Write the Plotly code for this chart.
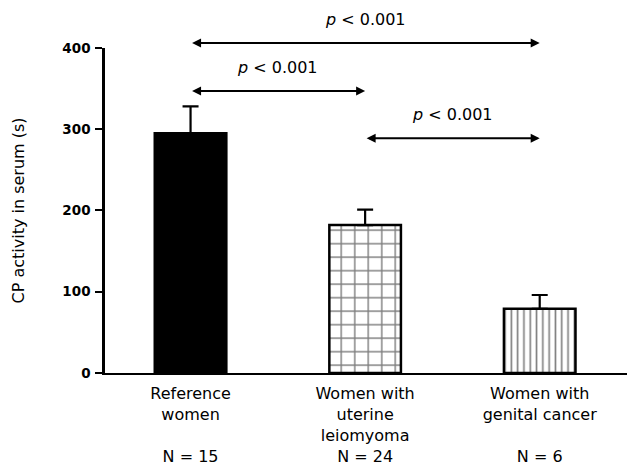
import plotly.graph_objects as go

# ---- data ----
groups = ["Reference<br>women", "Women with<br>uterine<br>leiomyoma", "Women with<br>genital cancer"]
n_subjects = [15, 24, 6]
means = [295, 182, 79]
sem = [33, 19, 17]
pattern_shapes = ["", "+", "|"]
y_ticks = [0, 100, 200, 300, 400]
# significance comparisons: (group a, group b, bracket level, label)
comparisons = [(0, 2, 406, "<i>p</i> &lt; 0.001"),
               (0, 1, 347, "<i>p</i> &lt; 0.001"),
               (1, 2, 289, "<i>p</i> &lt; 0.001")]

# ---- styles / layout constants ----
fill_colors = ["black", "white", "white"]
pattern_sizes = [8, 13.5, 6.3]
pattern_solidity = [0.3, 0.2, 0.26]
W, H = 627, 466
ML, MR, MT, MB = 105, 0, 4, 92.5
PX_PER_UNIT = (373.5 - 48) / 400.0
Y_TOP = (H - MT - MB) / PX_PER_UNIT
X_RANGE = [-0.49, 2.5]
FONT = "DejaVu Sans, Liberation Sans, Arial, sans-serif"
FS = 16

# tick labels: pad each group label to three lines, then the N line
ticktext = []
for g, n in zip(groups, n_subjects):
    lines = g.split("<br>")
    while len(lines) < 3:
        lines.append("\u00a0")
    lines.append(f"N = {n}")
    ticktext.append("<br>".join(lines))

x = list(range(len(groups)))

fig = go.Figure()
for i in x:
    marker = dict(color=fill_colors[i], line=dict(color="black", width=2.5))
    if pattern_shapes[i]:
        marker["pattern"] = dict(shape=pattern_shapes[i], size=pattern_sizes[i],
                                 solidity=pattern_solidity[i], fgcolor="black",
                                 bgcolor="white", fillmode="overlay")
    fig.add_trace(go.Bar(
        x=[i], y=[means[i]], width=0.41, marker=marker,
        error_y=dict(type="data", array=[sem[i]], arrayminus=[0], symmetric=False,
                     color="black", thickness=2.2, width=8),
        yaxis="y", showlegend=False,
    ))

annotations = []
for a, b, lvl, lab in comparisons:
    annotations.append(dict(
        x=b, y=lvl, ax=a, ay=lvl, xref="x", yref="y2", axref="x", ayref="y2",
        text="", showarrow=True, arrowhead=2, arrowside="end+start",
        arrowsize=0.9, arrowwidth=2, arrowcolor="black", standoff=0, startstandoff=0,
    ))
    annotations.append(dict(
        x=(a + b) / 2, y=lvl, xref="x", yref="y2", text=lab, showarrow=False,
        yshift=24, font=dict(family=FONT, size=FS, color="black"),
    ))

# y-axis title
plot_w = W - ML - MR
annotations.append(dict(
    text="CP activity in serum (s)", textangle=-90, showarrow=False,
    xref="paper", x=-(ML - 18) / plot_w, xanchor="center",
    yref="paper", y=(400 / Y_TOP) / 2, yanchor="middle",
    font=dict(family=FONT, size=FS, color="black"),
))

fig.update_layout(
    width=W, height=H, barmode="overlay",
    margin=dict(l=ML, r=MR, t=MT, b=MB, pad=0, autoexpand=False),
    paper_bgcolor="white", plot_bgcolor="rgba(0,0,0,0)",
    xaxis=dict(range=X_RANGE, tickvals=x, ticktext=ticktext, ticks="",
               showline=True, linecolor="black", linewidth=2, showgrid=False,
               zeroline=False, tickfont=dict(family=FONT, size=FS, color="black"),
               ticklabelstandoff=5, automargin=False),
    yaxis=dict(domain=[0, 400 / Y_TOP], range=[0, 400], tickvals=y_ticks,
               ticks="outside", ticklen=7, tickwidth=2, tickcolor="black",
               showline=True, linecolor="black", linewidth=2.5, showgrid=False,
               zeroline=False, anchor="x", ticklabelstandoff=2, automargin=False,
               tickfont=dict(family="DejaVu Sans", size=13.5, color="black", weight="bold")),
    yaxis2=dict(domain=[0, 1], range=[0, Y_TOP], visible=False, anchor="x", automargin=False),
    yaxis3=dict(overlaying="y", range=[0, 400], tickvals=y_ticks, ticks="inside",
                ticklen=5, tickwidth=2, tickcolor="black", showticklabels=False,
                showline=False, showgrid=False, zeroline=False, side="left", anchor="x",
                automargin=False),
    annotations=annotations,
)

fig.write_html("out.html")
